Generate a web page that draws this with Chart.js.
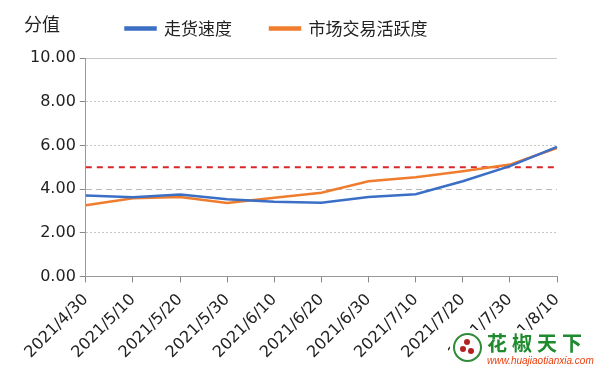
<!DOCTYPE html>
<html>
<head>
<meta charset="utf-8">
<script src="https://cdn.jsdelivr.net/npm/chart.js@4/dist/chart.umd.min.js"></script>
<style>
  html, body { margin: 0; padding: 0; background: #fff; }
  #wrap { position: relative; width: 600px; height: 379px; }
  #logo {
    position: absolute; left: 450px; top: 330px; width: 146px; height: 40px;
    background: #fff; font-family: "Noto Sans CJK SC", sans-serif;
  }
  #logo .circ {
    position: absolute; left: 3px; top: 3px; width: 25px; height: 25px;
    border: 2px solid #2e8b3a; border-radius: 50%; background: #fff;
  }
  #logo .dot { position: absolute; width: 6px; height: 6px; border-radius: 50%; background: #b22222; }
  #logo .name {
    position: absolute; left: 37px; top: 3px; font-size: 20px; line-height: 1; font-weight: bold;
    color: #1f8a2e; letter-spacing: 5px;
  }
  #logo .url {
    position: absolute; left: 37px; top: 26px; font-size: 10px; line-height: 1; font-style: italic;
    color: #e8400f; font-family: "Liberation Sans", sans-serif;
  }
</style>
</head>
<body>
<div id="wrap">
  <canvas id="grafico" width="600" height="379"></canvas>
  <div id="logo">
    <div class="circ">
      <div class="dot" style="left:9px;top:4px"></div>
      <div class="dot" style="left:5px;top:11px"></div>
      <div class="dot" style="left:13px;top:13px"></div>
    </div>
    <div class="name">花椒天下</div>
    <div class="url">www.huajiaotianxia.com</div>
  </div>
</div>
<script>
// dados
const datas = ['2021/4/30', '2021/5/10', '2021/5/20', '2021/5/30', '2021/6/10', '2021/6/20',
  '2021/6/30', '2021/7/10', '2021/7/20', '2021/7/30', '2021/8/10'];
const velocidade = [3.70, 3.63, 3.75, 3.53, 3.42, 3.37, 3.64, 3.76, 4.36, 5.05, 5.93];
const atividade = [3.26, 3.58, 3.64, 3.36, 3.60, 3.83, 4.36, 4.54, 4.82, 5.12, 5.88];
const linhaRef = datas.map(() => 5.0);
const yTicks = [0, 2, 4, 6, 8, 10];

const fonte = "'DejaVu Sans', 'Noto Sans CJK SC', sans-serif";

// escreve o título do eixo Y no canto e reposiciona a legenda
const ajustes = {
  id: 'ajustes',
  afterLayout(chart) {
    const lg = chart.legend;
    lg.left -= 15;
    lg.right -= 15;
    lg.top -= 11;
    lg.bottom -= 11;
  },
  afterDraw(chart) {
    const c = chart.ctx;
    c.save();
    c.font = "18px 'Noto Sans CJK SC', sans-serif";
    c.fillStyle = '#222';
    c.textBaseline = 'middle';
    c.fillText('分值', 24, 24);
    c.restore();
  }
};

const ctx = document.getElementById('grafico').getContext('2d');
new Chart(ctx, {
  type: 'line',
  data: {
    labels: datas,
    datasets: [
      {
        label: '走货速度',
        data: velocidade,
        borderColor: '#3b6fc6',
        backgroundColor: '#3b6fc6',
        borderWidth: 2.5,
        pointRadius: 0,
        tension: 0
      },
      {
        label: '市场交易活跃度',
        data: atividade,
        borderColor: '#ef7d2d',
        backgroundColor: '#ef7d2d',
        borderWidth: 2.5,
        pointRadius: 0,
        tension: 0
      },
      {
        label: 'ref',
        data: linhaRef,
        borderColor: '#d9262b',
        borderWidth: 2,
        borderDash: [6, 5],
        pointRadius: 0
      }
    ]
  },
  options: {
    responsive: false,
    animation: false,
    layout: { padding: { left: 26, right: 43, top: -7, bottom: 9 } },
    plugins: {
      tooltip: { enabled: false },
      legend: {
        position: 'top',
        labels: {
          filter: item => item.text !== 'ref',
          boxWidth: 30,
          boxHeight: 2,
          padding: 38,
          color: '#222',
          font: { family: "'Noto Sans CJK SC', sans-serif", size: 17 }
        }
      }
    },
    scales: {
      x: {
        offset: false,
        grid: {
          drawOnChartArea: false,
          drawTicks: true,
          tickLength: 6,
          tickColor: '#888'
        },
        border: { color: '#999', dash: [3, 2] },
        ticks: {
          minRotation: 45,
          maxRotation: 45,
          color: '#222',
          padding: 8,
          font: { family: fonte, size: 16 }
        }
      },
      y: {
        min: 0,
        max: 10,
        afterBuildTicks: axis => { axis.ticks = yTicks.map(v => ({ value: v })); },
        grid: {
          color: c => c.tick && c.tick.value === 4 ? '#b8b8b8' : '#c8c8c8',
          lineWidth: 1,
          tickLength: 6,
          tickColor: '#888'
        },
        border: {
          color: '#999',
          dash: c => {
            if (!c.tick) return [2, 2];
            if (c.tick.value === 10) return [];
            if (c.tick.value === 4) return [6, 4];
            return [2, 2];
          }
        },
        ticks: {
          color: '#222',
          padding: 4,
          font: { family: fonte, size: 16 },
          callback: v => Number(v).toFixed(2)
        }
      }
    }
  },
  plugins: [ajustes]
});
</script>
</body>
</html>
